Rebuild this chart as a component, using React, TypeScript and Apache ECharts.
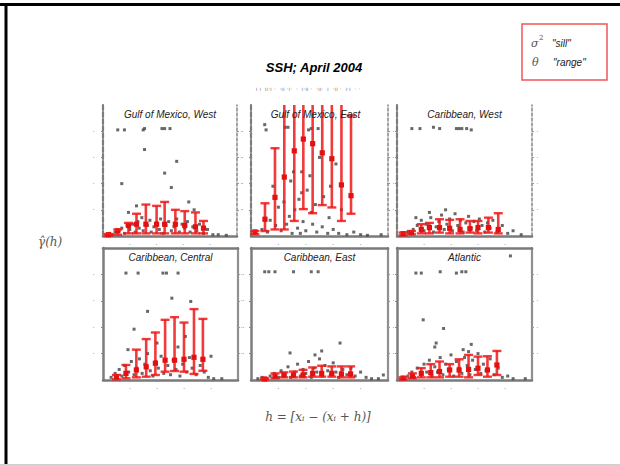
import React, { useEffect, useRef } from "react";
import * as echarts from "echarts";

const panelTitles = [
  "Gulf of Mexico, West",
  "Gulf of Mexico, East",
  "Caribbean, West",
  "Caribbean, Central",
  "Caribbean, East",
  "Atlantic",
];

// error bars: [lag, low, estimate, high]
const gmwBars = [
  [4, 0.3, 1, 1.5], [11, 1, 4, 5], [19, 2, 8, 10], [25, 2, 9, 17], [32, 2, 9, 24], [40, 2, 9, 23],
  [46, 2, 9, 26], [54, 2, 9, 20], [61, 2, 8, 19], [69, 2, 7, 18], [75, 2, 6, 11.5],
];
const gmeBars = [
  [2.9, 1.3, 3.1, 3.8], [10.2, 3.8, 12.8, 25], [17.5, 5, 29.5, 67], [24.3, 5, 45, 130], [31.6, 11.5, 65, 130],
  [38.2, 20.5, 74, 130], [45, 17.4, 70.5, 130], [52, 23.6, 63.5, 130], [59, 21.8, 59, 130], [66, 11.5, 39, 130],
  [73, 17, 30.8, 92],
];
const cwBars = [
  [4.5, 0.5, 1.8, 2.6], [10.7, 1.3, 2.6, 3.8], [18, 2, 5, 9], [24, 2, 6.4, 10], [31.5, 2.6, 6.4, 12.8],
  [39, 2, 5.9, 12.3], [46.7, 2, 5, 12.8], [54, 2.6, 5.6, 11.5], [60, 2, 6.4, 11.5], [67.7, 2.6, 6.4, 14],
  [75, 2, 5, 17.4],
];
const ccBars = [
  [10, 0.5, 2.5, 3.8], [17, 1.3, 5, 11.4], [24.7, 2, 7.6, 23], [32, 2.5, 10, 31], [38.8, 3.8, 12.7, 36],
  [46, 6.3, 15, 45.6], [53, 6.8, 15, 47.6], [60, 6.3, 15.7, 43.5], [67.4, 4.6, 17.2, 53.7], [74, 7, 15.7, 46.3],
];
const ceBars = [
  [10, 0.3, 0.8, 1.3], [17.5, 1.3, 3, 5], [24, 2, 3.8, 5.8], [31, 2, 3.8, 6.4], [38, 2, 3.8, 7.7],
  [45, 2.5, 5, 9.5], [51.6, 2.5, 5, 10.8], [59, 2.5, 5, 10.3], [66, 2, 4.6, 10.3], [72.7, 2, 4.6, 10.3],
];
const atlBars = [
  [4.5, 0.5, 1.5, 2], [11.4, 1.3, 3, 5], [18, 2, 5, 9], [25, 2, 5.6, 12], [31.5, 2, 6.4, 14],
  [39, 2.5, 7.6, 12], [46, 2.5, 7.6, 15.7], [53, 2, 8, 19], [60, 3.8, 8.9, 17.7], [67, 2.5, 7.6, 18],
  [74, 3.8, 11.4, 22],
];

// semivariance cloud points: [lag, value]
const gmwPoints = [
  [11, 81], [16, 81], [30, 81], [31, 82], [44, 82], [46, 82], [50, 82], [31, 66], [55, 57], [46, 48],
  [14, 40], [51, 37], [25, 23], [19, 18], [64, 26], [68, 20],
  [3, 1], [5, 2], [7, 1], [9, 3], [12, 4], [14, 6], [16, 2], [18, 8], [20, 5], [22, 9], [24, 3], [26, 11],
  [27, 6], [29, 14], [30, 4], [33, 8], [35, 12], [36, 3], [38, 7], [40, 10], [42, 5], [43, 13], [45, 2],
  [47, 8], [49, 11], [51, 4], [53, 7], [55, 13], [57, 3], [59, 9], [61, 6], [63, 11], [65, 3], [67, 7],
  [70, 4], [72, 9], [75, 2], [78, 5], [82, 1], [86, 1], [92, 0.5],
];
const gmePoints = [
  [10, 85], [11, 81], [25, 83], [27, 83], [42, 81], [44, 82], [49, 82], [31, 49], [37, 49], [37, 33],
  [43, 46], [16, 38], [32, 20], [14, 12], [20, 22], [28, 15], [26, 9], [34, 6], [38, 11], [40, 4], [45, 9],
  [48, 3], [52, 7], [56, 2], [60, 5], [64, 2], [70, 1], [75, 3], [80, 1], [85, 0.5], [95, 1], [8, 5],
  [12, 3], [18, 8], [22, 4], [30, 2], [36, 2], [44, 18], [47, 24], [53, 30], [58, 38], [62, 55], [66, 20],
  [50, 60], [41, 35], [35, 28], [24, 26], [29, 42], [57, 14],
];
const cwPoints = [
  [11, 82], [17, 82], [27, 83], [31.6, 82], [44, 82], [46, 82], [48, 82], [51.6, 82], [55, 81],
  [8, 3], [12, 5], [15, 8], [18, 12], [20, 4], [22, 9], [25, 14], [27, 3], [29, 7], [31, 11], [33, 16],
  [35, 5], [37, 9], [39, 13], [41, 4], [43, 17], [45, 8], [47, 12], [49, 3], [51, 10], [53, 15], [55, 6],
  [57, 11], [59, 4], [61, 13], [63, 8], [65, 3], [67, 10], [69, 6], [71, 12], [74, 3], [78, 8], [82, 2],
  [86, 4], [92, 1], [14, 14], [24, 18], [36, 20],
];
const ccPoints = [
  [17, 81], [26, 81], [44.4, 81], [47, 81], [55.6, 81], [51, 62], [65, 59.5], [33, 52], [23, 38.5],
  [61, 33], [40, 28], [18.5, 23], [55.5, 25], [80, 18], [6, 2], [9, 5], [12, 8], [14, 3], [16, 11], [19, 6],
  [21, 14], [23, 4], [25, 9], [27, 16], [29, 5], [31, 12], [33, 20], [35, 7], [37, 3], [39, 14], [41, 9],
  [43, 18], [45, 5], [48, 11], [50, 4], [52, 15], [54, 8], [57, 3], [59, 12], [62, 6], [64, 17], [66, 9],
  [69, 4], [72, 11], [75, 6], [78, 2], [82, 1], [88, 1],
];
const cePoints = [
  [10, 82], [13, 82], [17.5, 82], [31, 82], [44, 82], [49, 82], [65, 28], [51.6, 22], [28.5, 20.5],
  [46.7, 19], [96.6, 3.8], [5, 1], [8, 2], [11, 1], [14, 3], [17, 5], [20, 2], [22, 7], [25, 4], [27, 10],
  [29, 2], [32, 6], [34, 12], [36, 3], [38, 8], [40, 5], [42, 14], [44, 2], [46, 9], [48, 6], [50, 16],
  [52, 3], [54, 11], [56, 7], [58, 4], [60, 13], [62, 6], [64, 2], [67, 8], [70, 4], [73, 9], [76, 3],
  [80, 6], [84, 2], [88, 1], [93, 1],
];
const atlPoints = [
  [14, 81], [18, 81], [32, 82], [44, 81], [48, 82], [51, 82], [84, 94], [19.4, 45.6], [34.5, 39], [29, 28],
  [28, 25], [55, 27], [49, 23], [53, 21.5], [5, 1], [8, 3], [11, 6], [13, 2], [15, 9], [18, 4], [20, 12],
  [22, 6], [24, 15], [26, 3], [28, 10], [30, 6], [32, 17], [34, 4], [36, 12], [38, 8], [40, 19], [42, 3],
  [44, 14], [46, 9], [48, 5], [50, 17], [52, 11], [54, 4], [56, 15], [58, 8], [60, 20], [62, 5], [64, 12],
  [66, 7], [69, 16], [72, 4], [75, 9], [78, 2], [82, 3], [86, 1], [95, 1],
];

const panelBars = [gmwBars, gmeBars, cwBars, ccBars, ceBars, atlBars];
const panelPoints = [gmwPoints, gmePoints, cwPoints, ccPoints, cePoints, atlPoints];

const gridBoxes = [
  { left: 103, top: 105, width: 134, height: 131 },
  { left: 251, top: 105, width: 137, height: 131 },
  { left: 397, top: 105, width: 135, height: 131 },
  { left: 103, top: 248, width: 135, height: 132 },
  { left: 251, top: 248, width: 137, height: 132 },
  { left: 397, top: 248, width: 135, height: 132 },
];

const RED = "rgba(240,24,24,0.85)";

const renderBar = (params: any, api: any) => {
  const x = api.value(0);
  const lowV = api.value(1);
  const midV = api.value(2);
  const highV = api.value(3);
  const clipped = highV > 100;
  const lo = api.coord([x, lowV]);
  const hi = api.coord([x, Math.min(highV, 100)]);
  const mid = api.coord([x, midV]);
  const cap = 4.5;
  const children: any[] = [
    { type: "line", shape: { x1: lo[0], y1: lo[1], x2: hi[0], y2: hi[1] }, style: { stroke: RED, lineWidth: 2.6 } },
    { type: "line", shape: { x1: lo[0] - cap, y1: lo[1], x2: lo[0] + cap, y2: lo[1] }, style: { stroke: RED, lineWidth: 2.4 } },
    {
      type: "rect",
      shape: { x: mid[0] - 2.6, y: mid[1] - 2.6, width: 5.2, height: 5.2 },
      style: { fill: "#e41010" },
    },
  ];
  if (!clipped) {
    children.push({
      type: "line",
      shape: { x1: hi[0] - cap, y1: hi[1], x2: hi[0] + cap, y2: hi[1] },
      style: { stroke: RED, lineWidth: 2.4 },
    });
  }
  return { type: "group", children };
};

export default function App() {
  const ref = useRef<HTMLDivElement>(null);
  useEffect(() => {
    if (!ref.current) return;
    const chart = echarts.init(ref.current, undefined, { renderer: "svg" });

    const grid = gridBoxes.map((g) => ({ ...g, containLabel: false }));
    const xAxis: any[] = [];
    const yAxis: any[] = [];
    gridBoxes.forEach((g, i) => {
      const row2 = i >= 3;
      xAxis.push({
        type: "value",
        gridIndex: i,
        min: 0,
        max: 100,
        interval: 20,
        axisLine: { onZero: false, lineStyle: { color: "#7a7a7a", width: 2.5 } },
        axisTick: { show: true, length: 2, lineStyle: { color: "#888" } },
        axisLabel: {
          show: true,
          formatter: () => "·",
          fontSize: 8,
          color: "#777",
          margin: 4,
          showMinLabel: false,
          showMaxLabel: false,
        },
        splitLine: { show: false },
      });
      yAxis.push({
        type: "value",
        gridIndex: i,
        min: 0,
        max: 100,
        interval: 20,
        axisLine: {
          show: true,
          onZero: false,
          lineStyle: { color: "#7d7d7d", width: row2 ? 2.5 : 2.2, type: row2 ? "solid" : [5, 2] },
        },
        axisTick: { show: true, length: 2, lineStyle: { color: "#888" } },
        axisLabel: {
          show: true,
          formatter: () => "·",
          fontSize: 8,
          color: "#888",
          margin: 8,
          showMinLabel: false,
          showMaxLabel: false,
        },
        splitLine: { show: false },
      });
    });
    gridBoxes.forEach((g, i) => {
      const row2 = i >= 3;
      yAxis.push({
        type: "value",
        gridIndex: i,
        position: "right",
        min: 0,
        max: 100,
        interval: 20,
        axisLine: {
          show: true,
          onZero: false,
          lineStyle: { color: "#8f8f8f", width: row2 ? 2.2 : 1.6, type: row2 ? "solid" : [3, 2] },
        },
        axisTick: { show: true, length: 2, lineStyle: { color: "#999" } },
        axisLabel: {
          show: true,
          formatter: () => "·",
          fontSize: 8,
          color: "#888",
          margin: 4,
          showMinLabel: false,
          showMaxLabel: false,
        },
        splitLine: { show: false },
      });
    });
    [3, 4, 5].forEach((i) => {
      xAxis.push({
        type: "value",
        gridIndex: i,
        position: "top",
        min: 0,
        max: 100,
        interval: 20,
        axisLine: { onZero: false, lineStyle: { color: "#7a7a7a", width: 2.5 } },
        axisTick: { show: false },
        axisLabel: { show: false },
        splitLine: { show: false },
      });
    });

    const series: any[] = [];
    panelPoints.forEach((pts, i) => {
      series.push({
        type: "scatter",
        xAxisIndex: i,
        yAxisIndex: i,
        data: pts,
        symbol: "rect",
        symbolSize: 3,
        itemStyle: { color: "#4d4d4d", opacity: 0.85 },
        silent: true,
      });
    });
    panelBars.forEach((bars, i) => {
      series.push({
        type: "custom",
        xAxisIndex: i,
        yAxisIndex: i,
        data: bars,
        encode: { x: 0, y: [1, 2, 3] },
        renderItem: renderBar,
        silent: true,
        z: 5,
      });
    });

    const titleGraphics = gridBoxes.map((g, i) => ({
      type: "text",
      x: g.left + g.width / 2 + (i === 1 ? -4 : 0),
      y: g.top + 9,
      z: 10,
      style: {
        text: panelTitles[i],
        fill: "#222",
        font: "italic 10px 'Liberation Sans', Arial, sans-serif",
        textAlign: "center",
        textVerticalAlign: "middle",
      },
    }));

    const graphic: any[] = [
      { type: "line", shape: { x1: 0, y1: 4.5, x2: 620, y2: 4.5 }, style: { stroke: "#000", lineWidth: 3 } },
      { type: "line", shape: { x1: 6, y1: 3, x2: 6, y2: 465 }, style: { stroke: "#000", lineWidth: 3 } },
      { type: "line", shape: { x1: 0, y1: 464.5, x2: 620, y2: 464.5 }, style: { stroke: "#d0d0d0", lineWidth: 1 } },
      {
        type: "text",
        x: 314,
        y: 67,
        style: {
          text: "SSH; April 2004",
          fill: "#000",
          font: "italic bold 13px 'Liberation Sans', Arial, sans-serif",
          textAlign: "center",
          textVerticalAlign: "middle",
        },
      },
      {
        type: "text",
        x: 308,
        y: 88,
        style: {
          text: "ı ı  ıı·ı ·  ·ıı ·ı·  ·  ı·ıı ·  ·ıı·  ı  ·ıı ·  ı·ı  · ·",
          fill: "#888",
          font: "6px 'DejaVu Sans', sans-serif",
          textAlign: "center",
          textVerticalAlign: "middle",
        },
      },
      {
        type: "rect",
        shape: { x: 522, y: 24, width: 85, height: 56 },
        style: { fill: "none", stroke: "#f25555", lineWidth: 1.5 },
      },
      {
        type: "text",
        x: 531,
        y: 43,
        style: { text: "σ", fill: "#555", font: "italic 11px 'DejaVu Serif', serif", textVerticalAlign: "middle" },
      },
      {
        type: "text",
        x: 539,
        y: 38,
        style: { text: "2", fill: "#555", font: "7px 'DejaVu Serif', serif", textVerticalAlign: "middle" },
      },
      {
        type: "text",
        x: 552,
        y: 43,
        style: { text: "\"sill\"", fill: "#222", font: "italic 10px 'Liberation Sans', Arial, sans-serif", textVerticalAlign: "middle" },
      },
      {
        type: "text",
        x: 532,
        y: 62,
        style: { text: "θ", fill: "#555", font: "italic 11px 'DejaVu Serif', serif", textVerticalAlign: "middle" },
      },
      {
        type: "text",
        x: 553,
        y: 62,
        style: { text: "\"range\"", fill: "#222", font: "italic 10px 'Liberation Sans', Arial, sans-serif", textVerticalAlign: "middle" },
      },
      {
        type: "text",
        x: 38,
        y: 242,
        style: { text: "γ̂(h)", fill: "#555", font: "italic 12px 'DejaVu Serif', serif", textVerticalAlign: "middle" },
      },
      {
        type: "text",
        x: 318,
        y: 417,
        style: {
          text: "h = [xᵢ − (xᵢ + h)]",
          fill: "#555",
          font: "italic 12px 'DejaVu Serif', serif",
          textAlign: "center",
          textVerticalAlign: "middle",
        },
      },
      ...titleGraphics,
    ];

    chart.setOption({
      animation: false,
      backgroundColor: "#fff",
      grid,
      xAxis,
      yAxis,
      series,
      graphic,
    });
    return () => chart.dispose();
  }, []);
  return <div ref={ref} style={{ position: "absolute", left: 0, top: 0, width: 620, height: 465 }} />;
}
